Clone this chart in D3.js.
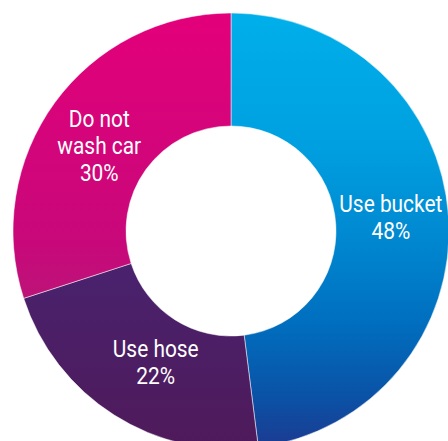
<!DOCTYPE html>
<html>
<head>
<meta charset="utf-8">
<script src="https://cdn.jsdelivr.net/npm/d3@7"></script>
<style>
  html, body { margin: 0; padding: 0; background: #ffffff; }
  svg { display: block; }
</style>
</head>
<body>
<svg id="chart" width="448" height="441"></svg>
<script>
// Car washing habits
const categories = ["Use bucket", "Use hose", "Do not wash car"];
const values = [48, 22, 30];
const labelLines = [["Use bucket"], ["Use hose"], ["Do not", "wash car"]];

const width = 448, height = 441;
const cx = 231, cy = 231;
const outerR = 218, innerR = 105;

const svg = d3.select("#chart");
const defs = svg.append("defs");

// vertical gradients per slice, in the chart group's coordinates (origin at centre)
const gradients = [
  { id: "gBucket", y1: -outerR, y2: outerR,
    stops: [[0, "#00afea"], [0.3, "#00a0e0"], [0.5, "#008ad2"], [0.7, "#0070c0"], [0.88, "#0a52a6"], [1, "#1c3a90"]] },
  { id: "gHose", y1: 30, y2: outerR,
    stops: [[0, "#49226e"], [1, "#4f1a5a"]] },
  { id: "gNot", y1: -outerR, y2: 70,
    stops: [[0, "#e3007a"], [0.8, "#c8087a"], [1, "#bc1478"]] }
];
gradients.forEach(g => {
  const lg = defs.append("linearGradient")
    .attr("id", g.id)
    .attr("gradientUnits", "userSpaceOnUse")
    .attr("x1", 0).attr("x2", 0)
    .attr("y1", g.y1).attr("y2", g.y2);
  g.stops.forEach(([o, c]) => lg.append("stop").attr("offset", o).attr("stop-color", c));
});

const data = categories.map((c, i) => ({ category: c, value: values[i], lines: labelLines[i], fill: `url(#${gradients[i].id})` }));

const pie = d3.pie().value(d => d.value).sort(null);
const arc = d3.arc().innerRadius(innerR).outerRadius(outerR);
const arcs = pie(data);

const g = svg.append("g").attr("transform", `translate(${cx},${cy})`);

g.selectAll("path.slice")
  .data(arcs)
  .join("path")
  .attr("class", "slice")
  .attr("d", arc)
  .attr("fill", d => d.data.fill)
  .attr("stroke", "#ffffff")
  .attr("stroke-width", 0.5);

// labels sit on a ring through the band, nudged a little per slice
const labelArc = d3.arc().innerRadius(outerR * 0.73).outerRadius(outerR * 0.73);
const labelNudge = [[1, 4.5], [10, 5], [-3, 16.5]];
const lineH = 27;

const labels = g.selectAll("g.label")
  .data(arcs)
  .join("g")
  .attr("class", "label")
  .attr("transform", d => {
    const [x, y] = labelArc.centroid(d);
    const [dx, dy] = labelNudge[d.index];
    return `translate(${x + dx},${y + dy}) scale(0.87,1)`;
  });

labels.each(function(d) {
  const t = d3.select(this);
  const lines = d.data.lines.concat([d.data.value + "%"]);
  const n = lines.length;
  lines.forEach((ln, i) => {
    t.append("text")
      .attr("text-anchor", "middle")
      .attr("fill", "#ffffff")
      .attr("font-family", "Roboto, sans-serif")
      .attr("font-weight", 400)
      .attr("font-size", 24)
      .attr("x", 0)
      .attr("y", (i - (n - 1) / 2) * lineH)
      .text(ln);
  });
});
</script>
</body>
</html>
